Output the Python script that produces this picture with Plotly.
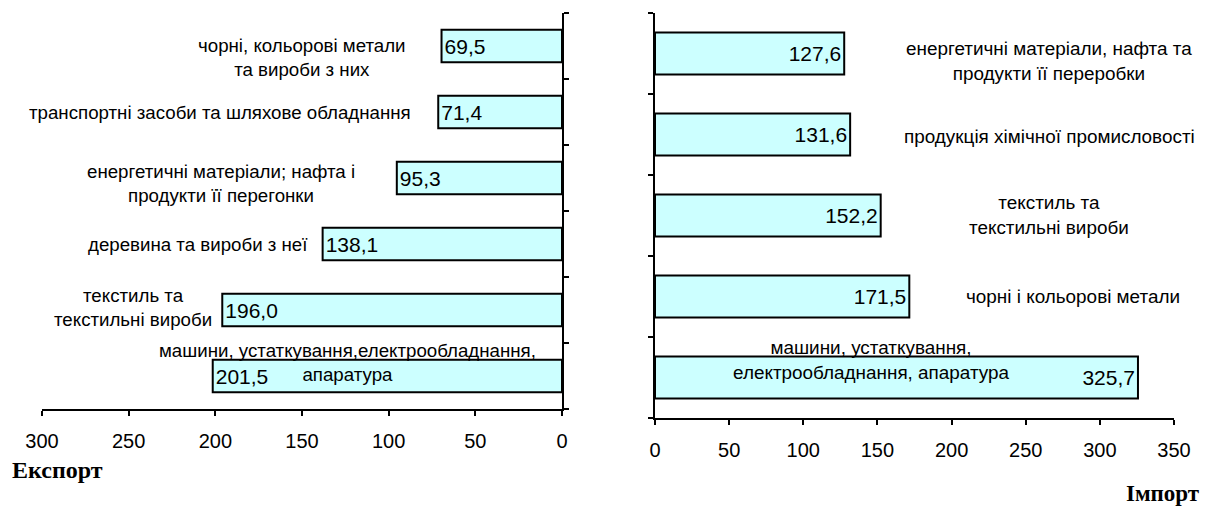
import plotly.graph_objects as go

# ---- data ----
export_categories = [
    "чорні, кольорові метали<br>та вироби з них",
    "транспортні засоби та шляхове обладнання",
    "енергетичні матеріали; нафта і<br>продукти її перегонки",
    "деревина та вироби з неї",
    "текстиль та<br>текстильні вироби",
    "машини, устаткування,електрообладнання,<br>апаратура",
]
export_values = [69.5, 71.4, 95.3, 138.1, 196.0, 201.5]

import_categories = [
    "енергетичні матеріали, нафта та<br>продукти її переробки",
    "продукція хімічної промисловості",
    "текстиль та<br>текстильні вироби",
    "чорні і кольорові метали",
    "машини, устаткування,<br>електрообладнання, апаратура",
]
import_values = [127.6, 131.6, 152.2, 171.5, 325.7]

export_ticks = [0, 50, 100, 150, 200, 250, 300]
import_ticks = [0, 50, 100, 150, 200, 250, 300, 350]

# label placement (axis units, pixel yshift) - layout only
export_label_pos = [(150.0, -11), (197.3, 0), (197.0, -5), (210.0, 0), (247.5, 3), (123.5, 14)]
import_label_pos = [(265.7, -7), (265.7, -2), (266.0, 1), (282.0, 0), (146.3, 18)]


def fmt(v):
    return f"{v:.1f}".replace(".", ",")


# page body has an 8px margin: lay out in window pixels
OFF = 8
W, H = 1209 - OFF, 508 - OFF


def fx(px):
    return (px - OFF) / W


def fy(py):
    return 1 - (py - OFF) / H


BAR_FILL = "#CCFFFF"
FONT = "Liberation Sans, Arial, sans-serif"
SERIF = "Liberation Serif, Times New Roman, serif"

fig = go.Figure()

fig.add_trace(go.Bar(
    y=list(range(len(export_values))), x=export_values, orientation="h",
    xaxis="x", yaxis="y",
    marker=dict(color=BAR_FILL, line=dict(color="black", width=2)),
    text=[fmt(v) for v in export_values], textposition="inside",
    insidetextanchor="end", textfont=dict(size=21, color="black", family=FONT),
    width=0.49, showlegend=False, hoverinfo="skip",
))
fig.add_trace(go.Bar(
    y=list(range(len(import_values))), x=import_values, orientation="h",
    xaxis="x2", yaxis="y2",
    marker=dict(color=BAR_FILL, line=dict(color="black", width=2)),
    text=[fmt(v) for v in import_values], textposition="inside",
    insidetextanchor="end", textfont=dict(size=21, color="black", family=FONT),
    width=0.52, showlegend=False, hoverinfo="skip",
))

annotations = []
for i, (cat, (xv, ys)) in enumerate(zip(export_categories, export_label_pos)):
    annotations.append(dict(
        x=xv, y=i, xref="x", yref="y", text=cat, showarrow=False,
        xanchor="center", yanchor="middle", align="center", yshift=ys,
        font=dict(size=18.7, color="black", family=FONT),
    ))
for i, (cat, (xv, ys)) in enumerate(zip(import_categories, import_label_pos)):
    annotations.append(dict(
        x=xv, y=i, xref="x2", yref="y2", text=cat, showarrow=False,
        xanchor="center", yanchor="middle", align="center", yshift=ys,
        font=dict(size=18.9, color="black", family=FONT),
    ))
annotations.append(dict(
    x=fx(10), y=fy(470), xref="paper", yref="paper", text="<b>Експорт</b>",
    showarrow=False, xanchor="left", yanchor="middle",
    font=dict(size=24, color="black", family=SERIF),
))
annotations.append(dict(
    x=fx(1202), y=fy(493), xref="paper", yref="paper", text="<b>Імпорт</b>",
    showarrow=False, xanchor="right", yanchor="middle",
    font=dict(size=23, color="black", family=SERIF),
))

axis_common = dict(
    showgrid=False, zeroline=False, showline=True, linecolor="black", linewidth=2,
    ticks="outside", tickcolor="black", tickwidth=2, ticklen=5,
    fixedrange=True, automargin=False,
)
tickfont = dict(size=20, color="black", family=FONT)

fig.update_layout(
    width=W, height=H,
    margin=dict(l=0, r=0, t=0, b=0, autoexpand=False),
    paper_bgcolor="white", plot_bgcolor="white",
    separators=", ",
    annotations=annotations,
    xaxis=dict(domain=[fx(42), fx(562)], range=[300, 0], anchor="y",
               tickvals=export_ticks, tickfont=tickfont, ticklabelstandoff=8, **axis_common),
    yaxis=dict(domain=[fy(409), fy(13)], range=[len(export_values) - 0.5, -0.5],
               anchor="x", side="right", showticklabels=False,
               tickmode="array", tickvals=[i + 0.5 for i in range(-1, len(export_values))],
               **axis_common),
    xaxis2=dict(domain=[fx(655), fx(1174)], range=[0, 350], anchor="y2",
                tickvals=import_ticks, tickfont=tickfont, ticklabelstandoff=8, **axis_common),
    yaxis2=dict(domain=[fy(418), fy(13)], range=[len(import_values) - 0.5, -0.5],
                anchor="x2", side="left", showticklabels=False,
                tickmode="array", tickvals=[i + 0.5 for i in range(-1, len(import_values))],
                **axis_common),
)

fig.write_html("out.html")
